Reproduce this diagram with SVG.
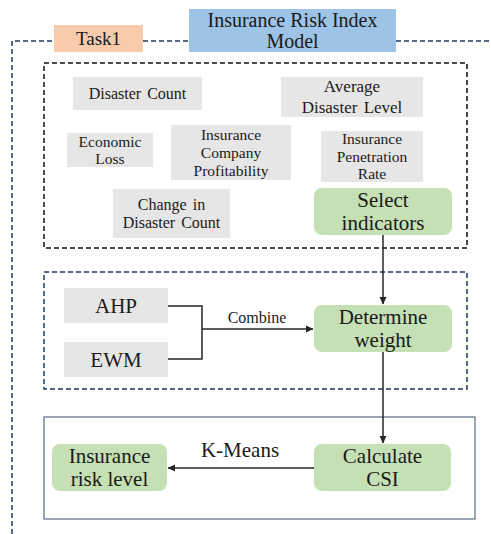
<svg xmlns="http://www.w3.org/2000/svg" width="491" height="534" viewBox="0 0 491 534">
<defs>
<style>
text{font-family:"Liberation Serif","Times New Roman",serif;fill:#1a1a1a;text-anchor:middle}
.g{fill:#e7e6e6}
.gr{fill:#c5e0b4}
.s{font-size:16px;word-spacing:2px}
.b{font-size:21px}
.c{stroke:#262626;stroke-width:1.5;fill:none}
</style>
<marker id="ah" markerWidth="8" markerHeight="8" refX="7" refY="4" orient="auto" markerUnits="userSpaceOnUse">
<path d="M0,0.5 L7.5,4 L0,7.5 Z" fill="#262626"/>
</marker>
</defs>
<rect width="491" height="534" fill="#fff"/>
<g id="frame">
<path d="M12,534 V41 H54 M143,41 H189 M396,41 H491" fill="none" stroke="#203864" stroke-width="1.5" stroke-dasharray="5,3"/>
<rect x="44" y="63" width="423" height="185" fill="none" stroke="#111" stroke-width="1.5" stroke-dasharray="5,3"/>
<rect x="44" y="272" width="423" height="117" fill="none" stroke="#203864" stroke-width="1.5" stroke-dasharray="5,3"/>
<rect x="44" y="417" width="431" height="102" fill="none" stroke="#5b6b85" stroke-width="1.2"/>
</g>
<g id="task1"><rect x="54" y="25" width="89" height="27" fill="#f8cbad"/><text x="98.5" y="45" style="font-size:19px">Task1</text></g>
<g id="title"><rect x="189" y="9" width="207" height="43" fill="#9dc3e6"/><text x="292.5" y="27" class="b" style="font-size:20px">Insurance Risk Index</text><text x="292.5" y="48" style="font-size:20px">Model</text></g>
<g id="disaster-count"><rect class="g" x="73" y="77" width="129" height="33"/><text class="s" x="137.5" y="99">Disaster Count</text></g>
<g id="avg-disaster-level"><rect class="g" x="281" y="77" width="142" height="40"/><text class="s" x="352" y="92" style="font-size:17px">Average</text><text class="s" x="352" y="113" style="font-size:17px">Disaster Level</text></g>
<g id="economic-loss"><rect class="g" x="67" y="133" width="86" height="34"/><text class="s" x="110" y="147" style="font-size:15.5px">Economic</text><text class="s" x="110" y="164" style="font-size:15.5px">Loss</text></g>
<g id="company-profitability"><rect class="g" x="171" y="125" width="120" height="55"/><text class="s" x="231" y="140" style="font-size:15.5px">Insurance</text><text class="s" x="231" y="158" style="font-size:15.5px">Company</text><text class="s" x="231" y="176" style="font-size:15.5px">Profitability</text></g>
<g id="penetration-rate"><rect class="g" x="321" y="131" width="102" height="51"/><text class="s" x="372" y="144" style="font-size:15.5px">Insurance</text><text class="s" x="372" y="162" style="font-size:15.5px">Penetration</text><text class="s" x="372" y="179" style="font-size:15.5px">Rate</text></g>
<g id="change-disaster-count"><rect class="g" x="113" y="189" width="117" height="49"/><text class="s" x="171.5" y="210">Change in</text><text class="s" x="171.5" y="228">Disaster Count</text></g>
<g id="select-indicators"><rect class="gr" x="314" y="188" width="138" height="47" rx="8"/><text class="b" x="383" y="207">Select</text><text class="b" x="383" y="230">indicators</text></g>
<g id="ahp"><rect class="g" x="64" y="288" width="104" height="35"/><text class="b" x="116" y="313">AHP</text></g>
<g id="ewm"><rect class="g" x="64" y="342" width="104" height="35"/><text class="b" x="116" y="367">EWM</text></g>
<g id="determine-weight"><rect class="gr" x="314" y="305" width="138" height="47" rx="8"/><text class="b" x="383" y="324">Determine</text><text class="b" x="383" y="347">weight</text></g>
<g id="risk-level"><rect class="gr" x="52" y="444" width="115" height="47" rx="8"/><text class="b" x="109.5" y="463">Insurance</text><text class="b" x="109.5" y="486">risk level</text></g>
<g id="calculate-csi"><rect class="gr" x="314" y="444" width="137" height="47" rx="8"/><text class="b" x="382.5" y="463">Calculate</text><text class="b" x="382.5" y="486">CSI</text></g>
<g id="connectors">
<path class="c" d="M383,235 V304" marker-end="url(#ah)"/>
<path class="c" d="M168,306 H202 V359 H168"/>
<path class="c" d="M202,329 H313" marker-end="url(#ah)"/>
<text x="257" y="323" style="font-size:16px">Combine</text>
<path class="c" d="M383,352 V443" marker-end="url(#ah)"/>
<path class="c" d="M314,468 H168" marker-end="url(#ah)"/>
<text x="240" y="457" class="b">K-Means</text>
</g>
</svg>
